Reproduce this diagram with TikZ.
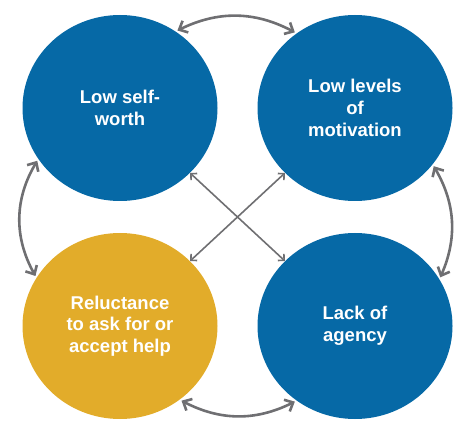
\documentclass[tikz,border=0pt]{standalone}
\usepackage{fontspec}
\setmainfont{Liberation Sans}
\usetikzlibrary{arrows.meta,shapes.geometric}

\definecolor{cycleblue}{HTML}{0669A6}
\definecolor{cyclegold}{HTML}{E2AC2A}
\definecolor{cyclegrey}{HTML}{6F6F72}

\begin{document}
\begin{tikzpicture}[x=1pt, y=1pt,
    blob/.style={ellipse, fill=cycleblue, minimum width=195pt, minimum height=186pt,
      inner sep=0pt, text=white, align=center,
      font=\fontsize{18.5}{21.7}\selectfont\bfseries},
    bendarrow/.style={draw=cyclegrey, line width=2.6pt,
      {Straight Barb[length=7pt,width=13pt]}-{Straight Barb[length=7pt,width=13pt]},
      shorten <=2pt, shorten >=2pt},
    diagarrow/.style={draw=cyclegrey, line width=1.6pt,
      {Straight Barb[length=4.5pt,width=9pt]}-{Straight Barb[length=4.5pt,width=9pt]}}]
  \useasboundingbox (0,0) rectangle (457,423);

  \node [blob](worth) at (120,315) {Low self-\\worth};
  \node [blob](motiv) at (355,315) {Low levels\\of\\motivation};
  \node [blob, fill=cyclegold](help) at (120,97) {Reluctance\\to ask for or\\accept help};
  \node [blob](agency) at (355,97) {Lack of\\agency};

  % curved arrows round the outside
  \draw [bendarrow] (worth.54) to[bend left=27] (motiv.128);
  \draw [bendarrow] (motiv.324) to[bend left=27] (agency.29);
  \draw [bendarrow] (help.309) to[bend right=27] (agency.232);
  \draw [bendarrow] (worth.212) to[bend right=30] (help.150);

  % the cross in the middle
  \draw [diagarrow] (worth) -- (agency);
  \draw [diagarrow] (motiv) -- (help);
\end{tikzpicture}
\end{document}
